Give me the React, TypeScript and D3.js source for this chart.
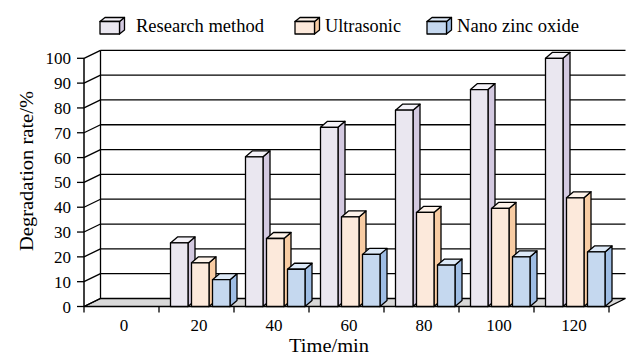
import React from "react";
import * as d3 from "d3";

const categories = ["0", "20", "40", "60", "80", "100", "120"];
const seriesNames = ["Research method", "Ultrasonic", "Nano zinc oxide"];
const researchMethod = [0, 25.6, 60.3, 72.2, 79.1, 87.4, 100];
const ultrasonic = [0, 17.6, 27.4, 36.1, 37.9, 39.5, 43.8];
const nanoZincOxide = [0, 10.8, 15, 21, 16.7, 20, 22];
const yTicks = [0, 10, 20, 30, 40, 50, 60, 70, 80, 90, 100];

const W = 627;
const H = 355;
const FONT = "'Liberation Serif', 'Times New Roman', serif";

const colors = [
  { front: "#EAE7F0", side: "#D3C9E0", top: "#F4F2F8" },
  { front: "#FCE9DB", side: "#F8CCA3", top: "#FEF3EA" },
  { front: "#C5D8EF", side: "#9EBDE4", top: "#DDE9F7" },
];

export default function App() {
  const x0 = 84;
  const x1 = 609;
  const yFront0 = 306.5;
  const DX = 16.5;
  const DY = 8;
  const bdx = 7;
  const bdy = 6;

  const y = d3.scaleLinear().domain([0, 100]).range([yFront0, 58.3]);
  const xBand = d3.scaleBand<string>().domain(categories).range([x0, x1]);
  const sub = d3
    .scaleBand<string>()
    .domain(seriesNames)
    .range([11.5, 71])
    .paddingInner(0.1667);

  const data = [researchMethod, ultrasonic, nanoZincOxide];

  const floor = `M${x0},${yFront0} L${x1},${yFront0} L${x1 + DX},${yFront0 - DY} L${x0 + DX},${yFront0 - DY} Z`;

  const bars: React.ReactNode[] = [];
  categories.forEach((c, ci) => {
    data.forEach((arr, si) => {
      const v = arr[ci];
      if (v <= 0) return;
      const bx = (xBand(c) as number) + (sub(seriesNames[si]) as number);
      const bw = sub.bandwidth();
      const yt = y(v);
      const yb = yFront0;
      const col = colors[si];
      bars.push(
        <g key={`${ci}-${si}`} stroke="#000" strokeWidth={1.3} strokeLinejoin="round">
          <path
            d={`M${bx + bw},${yt} L${bx + bw + bdx},${yt - bdy} L${bx + bw + bdx},${yb - bdy} L${bx + bw},${yb} Z`}
            fill={col.side}
          />
          <path
            d={`M${bx},${yt} L${bx + bdx},${yt - bdy} L${bx + bw + bdx},${yt - bdy} L${bx + bw},${yt} Z`}
            fill={col.top}
          />
          <rect x={bx} y={yt} width={bw} height={yb - yt} fill={col.front} />
        </g>
      );
    });
  });

  const legendItems = [
    { bx: 100, tx: 136, tl: 128 },
    { bx: 295, tx: 325, tl: 76 },
    { bx: 427, tx: 457, tl: 122 },
  ];

  return (
    <svg
      width={W}
      height={H}
      style={{ position: "absolute", left: 0, top: 0, background: "#fff" }}
      fontFamily={FONT}
    >
      {/* back wall */}
      <rect x={x0 + DX} y={y(100) - DY} width={x1 - x0} height={y(0) - y(100)} fill="#fff" />
      {/* floor */}
      <path d={floor} fill="#D9D9D9" stroke="#000" strokeWidth={1.3} />
      {/* gridlines and side diagonals */}
      {yTicks.map((t) => (
        <g key={t} stroke="#000" strokeWidth={1.3}>
          {t > 0 && (
            <line x1={x0 + DX} x2={x1 + DX} y1={y(t) - DY} y2={y(t) - DY} />
          )}
          <line x1={x0} x2={x0 + DX} y1={y(t)} y2={y(t) - DY} />
          <line x1={x0 - 7} x2={x0} y1={y(t)} y2={y(t)} />
          <text
            x={71}
            y={y(t) + 6}
            textAnchor="end"
            fontSize={17}
            stroke="none"
            fill="#000"
          >
            {t}
          </text>
        </g>
      ))}
      {/* back wall left edge */}
      <line x1={x0 + DX} x2={x0 + DX} y1={y(100) - DY} y2={y(0) - DY} stroke="#000" strokeWidth={1.3} />
      {/* front y axis */}
      <line x1={x0} x2={x0} y1={y(100)} y2={y(0)} stroke="#000" strokeWidth={1.5} />
      {/* x ticks */}
      {categories.concat(["end"]).map((c, i) => {
        const xx = x0 + i * xBand.step();
        return (
          <line key={c} x1={xx} x2={xx} y1={yFront0} y2={yFront0 + 6} stroke="#000" strokeWidth={1.3} />
        );
      })}
      {categories.map((c) => (
        <text
          key={c}
          x={(xBand(c) as number) + xBand.bandwidth() / 2 + 2.5}
          y={331}
          textAnchor="middle"
          fontSize={17}
          fill="#000"
        >
          {c}
        </text>
      ))}
      {bars}
      {/* axis titles */}
      <text
        transform="translate(26,171) rotate(-90)"
        textAnchor="middle"
        dominantBaseline="central"
        fontSize={19}
        textLength={160}
        lengthAdjust="spacingAndGlyphs"
        fill="#000"
      >
        Degradation rate/%
      </text>
      <text
        x={329}
        y={352}
        textAnchor="middle"
        fontSize={18}
        textLength={80}
        lengthAdjust="spacingAndGlyphs"
        fill="#000"
      >
        Time/min
      </text>
      {/* legend */}
      {legendItems.map((it, i) => {
        const col = colors[i];
        const fx = it.bx;
        const fy = 21.5;
        const fw = 19.5;
        const fh = 12.5;
        const d = 5;
        const dv = 4;
        return (
          <g key={i}>
            <g stroke="#000" strokeWidth={1.3} strokeLinejoin="round">
              <path
                d={`M${fx + fw},${fy} L${fx + fw + d},${fy - dv} L${fx + fw + d},${fy + fh - dv} L${fx + fw},${fy + fh} Z`}
                fill={col.side}
              />
              <path
                d={`M${fx},${fy} L${fx + d},${fy - dv} L${fx + fw + d},${fy - dv} L${fx + fw},${fy} Z`}
                fill={col.top}
              />
              <rect x={fx} y={fy} width={fw} height={fh} fill={col.front} />
            </g>
            <text
              x={it.tx}
              y={32}
              fontSize={18}
              textLength={it.tl}
              lengthAdjust="spacingAndGlyphs"
              fill="#000"
            >
              {seriesNames[i]}
            </text>
          </g>
        );
      })}
    </svg>
  );
}
